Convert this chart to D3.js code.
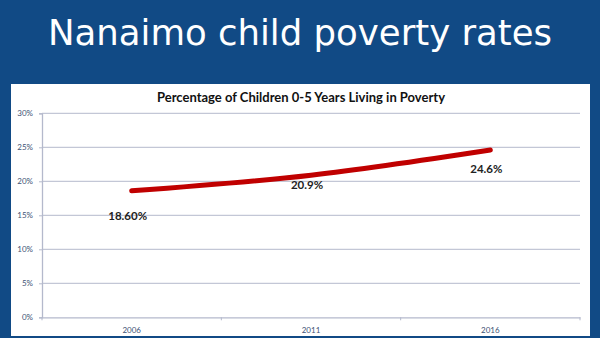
<!DOCTYPE html>
<html><head><meta charset="utf-8">
<script src="https://cdn.jsdelivr.net/npm/d3@7"></script>
<style>html,body{margin:0;padding:0;background:#114a85;}svg{display:block}</style>
</head><body>
<svg id="c" width="600" height="338"></svg>
<script>
const years = ["2006", "2011", "2016"];
const rates = [18.6, 20.9, 24.6];
const pointLabels = ["18.60%", "20.9%", "24.6%"];
const labelOffsets = [25, 10, 19];
const yTicks = [0, 5, 10, 15, 20, 25, 30];
const slideTitle = "Nanaimo child poverty rates";
const chartTitle = "Percentage of Children 0-5 Years Living in Poverty";

const svg = d3.select("#c");
svg.append("rect").attr("width",600).attr("height",338).attr("fill","#114a85");
svg.append("text").attr("x",300).attr("y",45).attr("text-anchor","middle")
  .attr("fill","#fff").attr("font-family","DejaVu Sans").attr("font-size",35.5)
  .text(slideTitle);
svg.append("rect").attr("x",11).attr("y",84).attr("width",579).attr("height",252).attr("fill","#fff");

const x = d3.scaleBand().domain(years).range([42,580]).paddingInner(0).paddingOuter(0);
const y = d3.scaleLinear().domain([0,30]).range([317.3,113.3]);

svg.append("text").attr("x",301).attr("y",101.5).attr("text-anchor","middle")
  .attr("fill","#111").attr("font-family","Lato").attr("font-weight","bold").attr("font-size",13)
  .text(chartTitle);

// gridlines
svg.append("g").selectAll("line").data(yTicks.filter(d=>d>0)).join("line")
  .attr("x1",42).attr("x2",580).attr("y1",d=>y(d)).attr("y2",d=>y(d))
  .attr("stroke","#c3c7d6").attr("stroke-width",1.3);

const yAxis = svg.append("g").attr("transform","translate(42,0)")
  .call(d3.axisLeft(y).tickValues(yTicks).tickFormat(d=>d+"%").tickSize(3).tickPadding(6));
const xAxis = svg.append("g").attr("transform","translate(0,317.3)")
  .call(d3.axisBottom(x).tickSize(0).tickPadding(10));
xAxis.selectAll(".tick line").remove();
xAxis.append("g").selectAll("line").data([...years.map(d=>x(d)), 580]).join("line")
  .attr("x1",d=>d).attr("x2",d=>d).attr("y1",0).attr("y2",3).attr("stroke","#b4b9cc");
[yAxis,xAxis].forEach(g=>{
  g.select(".domain").attr("stroke","#b4b9cc").attr("stroke-width",1.3);
  g.selectAll(".tick line").attr("stroke","#b4b9cc");
  g.selectAll("text").attr("fill","#3e5275").attr("font-family","Lato").attr("font-size",8);
});

const cx = d=>x(d)+x.bandwidth()/2;
const line = d3.line().x((d,i)=>cx(years[i])).y(d=>y(d)).curve(d3.curveMonotoneX);
svg.append("path").datum(rates).attr("d",line).attr("fill","none")
  .attr("stroke","#c00000").attr("stroke-width",5).attr("stroke-linecap","round");

svg.append("g").selectAll("text").data(rates).join("text")
  .attr("x",(d,i)=>cx(years[i])-4).attr("y",(d,i)=>y(d)+labelOffsets[i]+4)
  .attr("text-anchor","middle").attr("fill","#222").attr("font-family","Lato")
  .attr("font-weight","bold").attr("font-size",11.5).text((d,i)=>pointLabels[i]);
</script>
</body></html>
